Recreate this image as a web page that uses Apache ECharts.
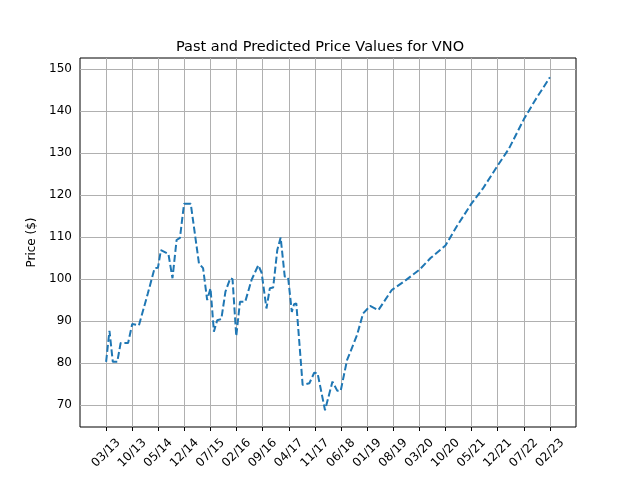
<!DOCTYPE html>
<html>
<head>
<meta charset="utf-8">
<script src="https://cdn.jsdelivr.net/npm/echarts@6/dist/echarts.min.js"></script>
<style>html,body{margin:0;padding:0;background:#fff}#chart{width:640px;height:480px}</style>
</head>
<body>
<div id="chart"></div>
<script>
// months counted from 03/13
var months = [0, 0.9, 1.8, 3, 3.9, 5.9, 7, 8.8, 11.2, 13, 13.9, 14.7, 16.7, 17.8, 18.9, 19.8, 20.9, 22.7,
    24.9, 26, 27.1, 28, 28.9, 29.8, 30.9, 32, 33.3, 33.9, 34.9, 35.9, 37.3, 39, 40.8, 41.7, 43, 43.9, 44.8,
    45.9, 46.8, 47.9, 48.8, 49.8, 50.4, 51, 52.7, 54.5, 55.8, 56.7, 58.7, 60.7, 62, 62.9, 64.6, 67.3, 68.9,
    70.8, 73, 76.6, 80, 84, 87, 91, 94, 98, 101, 105, 108, 112, 115, 119];
var prices = [80.3, 87.7, 80.3, 80.3, 84.8, 84.8, 89.3, 89, 96.6, 102.6, 102.7, 106.9, 106, 100.2, 109.3, 109.8, 117.9, 117.9,
    103.7, 102.6, 95, 97.8, 87.5, 90.2, 90.5, 97, 100.2, 100, 86.4, 94.6, 94.6, 99.8, 103.3, 101.5, 93, 97.8, 98,
    106.9, 109.9, 100.6, 100.4, 92.2, 94, 94.2, 74.8, 75.2, 77.7, 77.6, 68.8, 75.6, 73.4, 73.4, 80.7, 86.7, 91.8,
    93.6, 92.6, 97.4, 99.5, 102.2, 105, 108, 112.5, 118, 121.5, 127, 131, 138, 142.5, 148];
var tickLabels = ['03/13', '10/13', '05/14', '12/14', '07/15', '02/16', '09/16', '04/17', '11/17', '06/18',
    '01/19', '08/19', '03/20', '10/20', '05/21', '12/21', '07/22', '02/23'];
var yTicks = [70, 80, 90, 100, 110, 120, 130, 140, 150];

var xTicks = tickLabels.map(function (_, i) { return i * 7; });
var data = months.map(function (m, i) { return [m, prices[i]]; });
var font = 'DejaVu Sans';
var chart = echarts.init(document.getElementById('chart'));
chart.setOption({
    animation: false,
    title: {text: 'Past and Predicted Price Values for VNO', left: 'center', top: 35,
        textStyle: {fontFamily: font, fontSize: 14.5, fontWeight: 'normal', color: '#000'}},
    grid: {left: 80, right: 64, top: 58, bottom: 53, show: true, borderColor: '#000', borderWidth: 1},
    xAxis: {
        type: 'value', min: -7, max: 126, interval: 7,
        axisLine: {show: false},
        axisTick: {show: true, length: 4, inside: false, lineStyle: {color: '#000'}, customValues: xTicks},
        splitLine: {show: true, lineStyle: {color: '#b0b0b0', width: 1}},
        axisLabel: {rotate: 45, fontFamily: font, fontSize: 12, color: '#000', margin: 26,
            align: 'center', verticalAlign: 'middle', customValues: xTicks,
            formatter: function (v) { var k = Math.round(v / 7); return tickLabels[k] || ''; }}
    },
    yAxis: {
        type: 'value', min: 64.8, max: 152.6,
        name: 'Price ($)', nameLocation: 'middle', nameGap: 40,
        nameTextStyle: {fontFamily: font, fontSize: 12, color: '#000'},
        axisLine: {show: false},
        axisTick: {show: true, length: 4, inside: false, lineStyle: {color: '#000'}, customValues: yTicks},
        splitLine: {show: false},
        axisLabel: {fontFamily: font, fontSize: 12, color: '#000', customValues: yTicks}
    },
    series: [{
        type: 'line', data: data, showSymbol: false, z: 3,
        lineStyle: {color: '#1f77b4', width: 2, type: [7, 3]},
        markLine: {
            silent: true, symbol: 'none', label: {show: false}, z: 1,
            lineStyle: {color: '#b0b0b0', width: 1, type: 'solid'},
            data: yTicks.map(function (v) { return {yAxis: v}; })
        }
    }]
});
</script>
</body>
</html>
